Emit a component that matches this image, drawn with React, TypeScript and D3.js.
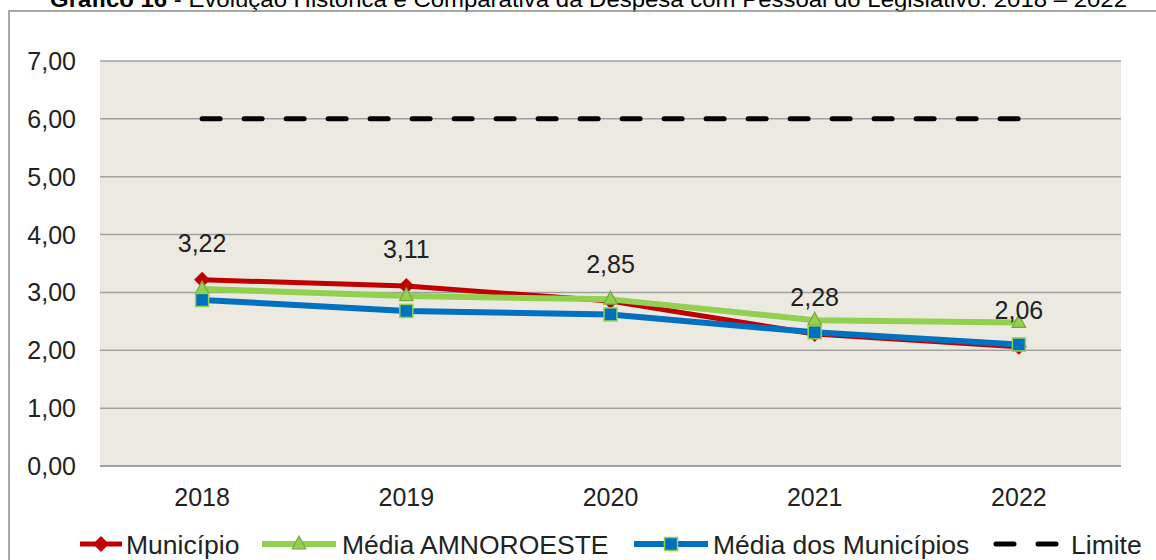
import * as d3 from "d3"

const years = ["2018", "2019", "2020", "2021", "2022"]
const municipio = [3.22, 3.11, 2.85, 2.28, 2.06]
const mediaAmnoroeste = [3.06, 2.94, 2.88, 2.52, 2.48]
const mediaMunicipios = [2.87, 2.68, 2.62, 2.31, 2.1]
const limite = [6, 6, 6, 6, 6]
const yTicks = [0, 1, 2, 3, 4, 5, 6, 7]

const W = 1156
const H = 560
const plot = { left: 100, right: 1121, top: 61, bottom: 466 }
const FONT = "'Liberation Sans', Arial, sans-serif"

const RED = "#C00000"
const GREEN = "#92D050"
const BLUE = "#0070C0"

const fmt = (v: number) => v.toFixed(2).replace(".", ",")

export default function App() {
    const x = d3.scaleBand().domain(years).range([plot.left, plot.right]).padding(0)
    const y = d3.scaleLinear().domain([0, 7]).range([plot.bottom, plot.top])
    const cx = (yr: string) => (x(yr) ?? 0) + x.bandwidth() / 2

    const line = (vals: number[]) =>
        d3.line<number>()
            .x((_, i) => cx(years[i]))
            .y(v => y(v))(vals) ?? ""

    const diamond = (px: number, py: number, r: number) =>
        `M${px},${py - r}L${px + r},${py}L${px},${py + r}L${px - r},${py}Z`
    const triangle = (px: number, py: number, r: number) =>
        `M${px},${py - r}L${px + r * 0.85},${py + r * 0.6}L${px - r * 0.85},${py + r * 0.6}Z`

    const legendY = 544

    return (
        <svg
            width={W}
            height={H}
            style={{ position: "absolute", left: 0, top: 0, background: "#fff" }}
            fontFamily={FONT}
        >
            {/* title, cut off at the top like the source */}
            <text x={50} y={7} fontSize={22} fill="#000" textLength={1077} lengthAdjust="spacingAndGlyphs">
                <tspan fontWeight="bold">Gráfico 16</tspan>
                <tspan> - Evolução Histórica e Comparativa da Despesa com Pessoal do Legislativo: 2018 – 2022</tspan>
            </text>

            {/* outer frame */}
            <path d={`M9,${H}V11H${W}`} fill="none" stroke="#8c8c8c" strokeWidth={1.5} />

            {/* plot area */}
            <rect x={plot.left} y={plot.top} width={plot.right - plot.left} height={plot.bottom - plot.top} fill="#ECEAE0" />
            {yTicks.map(t => (
                <g key={t}>
                    <line x1={plot.left} x2={plot.right} y1={y(t)} y2={y(t)} stroke="#A0A0A0" strokeWidth={t === 0 ? 2 : 1.5} />
                    <text x={76} y={y(t)} dy="0.36em" textAnchor="end" fontSize={25} fill="#222">{fmt(t)}</text>
                </g>
            ))}
            {years.map(yr => (
                <text key={yr} x={cx(yr)} y={506} textAnchor="middle" fontSize={25} fill="#222">{yr}</text>
            ))}

            {/* limit */}
            <path d={line(limite)} fill="none" stroke="#000" strokeWidth={5} strokeDasharray="18 24" strokeLinecap="round" />

            {/* Município */}
            <path d={line(municipio)} fill="none" stroke={RED} strokeWidth={5} strokeLinejoin="round" />
            {municipio.map((v, i) => (
                <path key={i} d={diamond(cx(years[i]), y(v), 8)} fill={RED} />
            ))}

            {/* Média AMNOROESTE */}
            <path d={line(mediaAmnoroeste)} fill="none" stroke={GREEN} strokeWidth={6} strokeLinejoin="round" />
            {mediaAmnoroeste.map((v, i) => (
                <path key={i} d={triangle(cx(years[i]), y(v), 8)} fill={GREEN} stroke="#77A83E" strokeWidth={1.2} />
            ))}

            {/* Média dos Municípios */}
            <path d={line(mediaMunicipios)} fill="none" stroke={BLUE} strokeWidth={6} strokeLinejoin="round" />
            {mediaMunicipios.map((v, i) => (
                <rect key={i} x={cx(years[i]) - 6.5} y={y(v) - 6.5} width={13} height={13} fill={BLUE} stroke={GREEN} strokeWidth={1.5} />
            ))}

            {/* data labels for Município */}
            {municipio.map((v, i) => (
                <text key={i} x={cx(years[i])} y={y(v) - 28} textAnchor="middle" fontSize={25} fill="#222">{fmt(v)}</text>
            ))}

            {/* legend */}
            <g fontSize={26.5} fill="#222">
                <line x1={80} x2={122} y1={legendY} y2={legendY} stroke={RED} strokeWidth={5} />
                <path d={diamond(101, legendY, 8)} fill={RED} />
                <text x={126} y={legendY} dy="0.36em">Município</text>

                <line x1={262} x2={336} y1={legendY} y2={legendY} stroke={GREEN} strokeWidth={6} />
                <path d={triangle(299, legendY, 8)} fill={GREEN} stroke="#77A83E" strokeWidth={1.2} />
                <text x={342} y={legendY} dy="0.36em">Média AMNOROESTE</text>

                <line x1={634} x2={708} y1={legendY} y2={legendY} stroke={BLUE} strokeWidth={6} />
                <rect x={671 - 6.5} y={legendY - 6.5} width={13} height={13} fill={BLUE} stroke={GREEN} strokeWidth={1.5} />
                <text x={713} y={legendY} dy="0.36em">Média dos Municípios</text>

                <line x1={996} x2={1058} y1={legendY} y2={legendY} stroke="#000" strokeWidth={5} strokeDasharray="18 24" strokeLinecap="round" />
                <text x={1071} y={legendY} dy="0.36em">Limite</text>
            </g>
        </svg>
    )
}
